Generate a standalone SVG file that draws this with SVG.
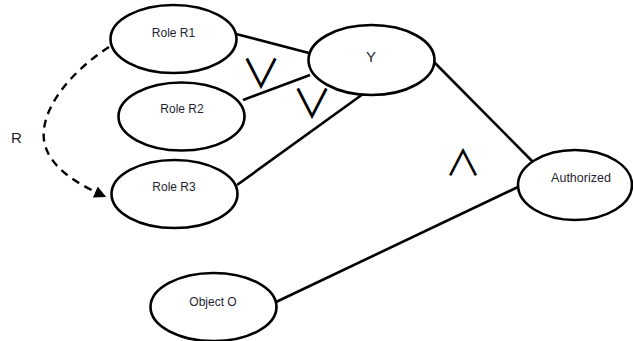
<svg xmlns="http://www.w3.org/2000/svg" width="633" height="341" viewBox="0 0 633 341">
  <style>
    .node ellipse { fill: #ffffff; stroke: #000000; stroke-width: 2.6; }
    .node text { font-family: "Liberation Sans", Arial, sans-serif; font-size: 12px; fill: #1e1e2e; text-anchor: middle; }
    .edge { stroke: #000000; stroke-width: 2.6; fill: none; }
    .dash { stroke: #000000; stroke-width: 2.4; fill: none; stroke-dasharray: 8 6; }
    .op { font-family: "Noto Sans CJK JP", "DejaVu Sans", sans-serif; font-weight: 400; fill: #000000; text-anchor: middle; }
    .lbl { font-family: "Liberation Sans", Arial, sans-serif; font-size: 15px; fill: #1e1e2e; }
  </style>
  <defs>
    <marker id="arrow" viewBox="0 0 10 10" refX="8" refY="5" markerWidth="5" markerHeight="5" orient="auto" markerUnits="strokeWidth">
      <path d="M0,0 L10,5 L0,10 z" fill="#000000"/>
    </marker>
  </defs>
  <rect width="633" height="341" fill="#ffffff"/>

  <g id="connectors">
    <line class="edge" x1="236" y1="34" x2="309" y2="53"/>
    <line class="edge" x1="243" y1="100" x2="310" y2="75"/>
    <line class="edge" x1="237" y1="185" x2="363" y2="94"/>
    <line class="edge" x1="434" y1="62" x2="533" y2="162"/>
    <line class="edge" x1="518" y1="187" x2="276" y2="302"/>
    <path class="dash" d="M109,47 C70,72 40,110 44,140 C48,168 80,185 104,196" marker-end="url(#arrow)"/>
  </g>

  <text class="op" x="261" y="88" font-size="40">∨</text>
  <text class="op" x="312" y="118" font-size="40">∨</text>
  <text class="op" x="463" y="176" font-size="36">∧</text>
  <text class="lbl" x="11" y="143">R</text>

  <g id="role-r1" class="node">
    <ellipse cx="173.5" cy="39" rx="63" ry="34"/>
    <text x="173.5" y="37">Role R1</text>
  </g>
  <g id="role-r2" class="node">
    <ellipse cx="181.5" cy="116.5" rx="63" ry="34"/>
    <text x="182" y="113">Role R2</text>
  </g>
  <g id="role-r3" class="node">
    <ellipse cx="174.5" cy="194" rx="63" ry="34"/>
    <text x="174" y="191">Role R3</text>
  </g>
  <g id="y" class="node">
    <ellipse cx="371.5" cy="60" rx="63" ry="35"/>
    <text x="371" y="62" style="font-size:15px">Y</text>
  </g>
  <g id="authorized" class="node">
    <ellipse cx="575" cy="185" rx="57" ry="35"/>
    <text x="581" y="182" style="font-size:12.5px">Authorized</text>
  </g>
  <g id="object-o" class="node">
    <ellipse cx="213.5" cy="307" rx="63" ry="34"/>
    <text x="213" y="306">Object O</text>
  </g>
</svg>
